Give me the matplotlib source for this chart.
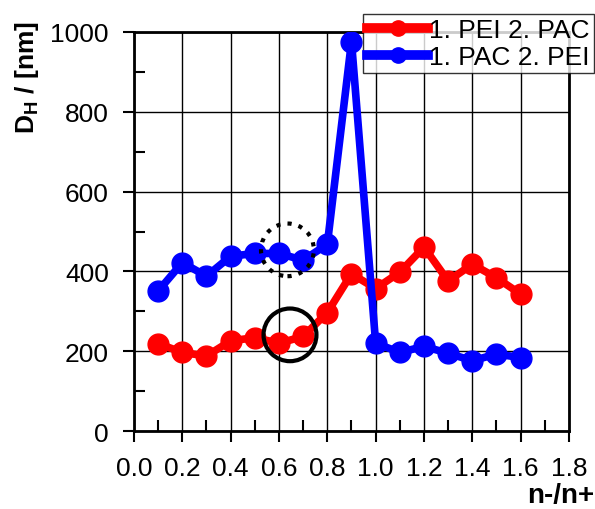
import matplotlib.pyplot as plt
from matplotlib.patches import Ellipse
from matplotlib.ticker import MultipleLocator, FormatStrFormatter

plt.rcParams['font.family'] = ['Liberation Sans', 'DejaVu Sans']
plt.rcParams['mathtext.fontset'] = 'custom'
plt.rcParams['mathtext.rm'] = 'Liberation Sans'
plt.rcParams['mathtext.bf'] = 'Liberation Sans:bold'

# ratio of charges n-/n+
ratio = [0.1, 0.2, 0.3, 0.4, 0.5, 0.6, 0.7, 0.8,
         0.9, 1.0, 1.1, 1.2, 1.3, 1.4, 1.5, 1.6]

# hydrodynamic diameter in nm
dh_pei_pac = [219, 197, 188, 226, 234, 220, 237, 297,
              394, 357, 398, 461, 376, 418, 384, 343]
dh_pac_pei = [351, 422, 388, 438, 445, 445, 428, 468,
              976, 220, 197, 212, 195, 176, 193, 184]

labels = ['1. PEI 2. PAC', '1. PAC 2. PEI']

fig = plt.figure(figsize=(5.95, 5.10), dpi=100)
ax = fig.add_axes([0.2252, 0.1529, 0.7311, 0.7824])

ax.plot(ratio, dh_pei_pac, color='#ff0000', lw=5.5, marker='o', ms=15,
        label=labels[0], zorder=3)
ax.plot(ratio, dh_pac_pei, color='#0000ff', lw=5.5, marker='o', ms=15,
        label=labels[1], zorder=3)

# highlight rings around x = 0.65
ax.add_patch(Ellipse((0.6455, 241), 0.219, 132, fill=False, ec='black',
                     lw=3, zorder=4))
ax.add_patch(Ellipse((0.635, 454), 0.219, 132, fill=False, ec='black',
                     lw=3, ls=(0, (1, 1.7)), zorder=4))

ax.set_xlim(0, 1.8)
ax.set_ylim(0, 1000)
ax.xaxis.set_major_locator(MultipleLocator(0.2))
ax.xaxis.set_minor_locator(MultipleLocator(0.1))
ax.xaxis.set_major_formatter(FormatStrFormatter('%.1f'))
ax.yaxis.set_major_locator(MultipleLocator(200))
ax.yaxis.set_minor_locator(MultipleLocator(100))

ax.grid(True, which='major', color='black', lw=1)
ax.set_axisbelow(True)
for s in ax.spines.values():
    s.set_linewidth(2)
ax.tick_params(which='major', direction='out', length=8, width=1.5,
               labelsize=19, pad=10)
ax.tick_params(which='minor', direction='in', length=8, width=1.5)

fig.text(0.045, 0.847, r'$\mathbf{D_H}$ / [nm]', rotation=90, fontsize=19,
         fontweight='bold', ha='center', va='center')
fig.text(0.998, 0.028, 'n-/n+', fontsize=20, fontweight='bold',
         ha='right', va='center')

leg = fig.legend(loc='upper right', bbox_to_anchor=(0.998, 0.971),
                 fontsize=19, frameon=True, fancybox=False, borderpad=0.15,
                 handlelength=2.3, handletextpad=0.05, labelspacing=0.12,
                 borderaxespad=0)
for h in leg.legend_handles:
    h.set_linewidth(7)
    h.set_markersize(11)
leg.get_frame().set_edgecolor('black')
leg.get_frame().set_linewidth(1)

fig.savefig('out.png', dpi=100)
